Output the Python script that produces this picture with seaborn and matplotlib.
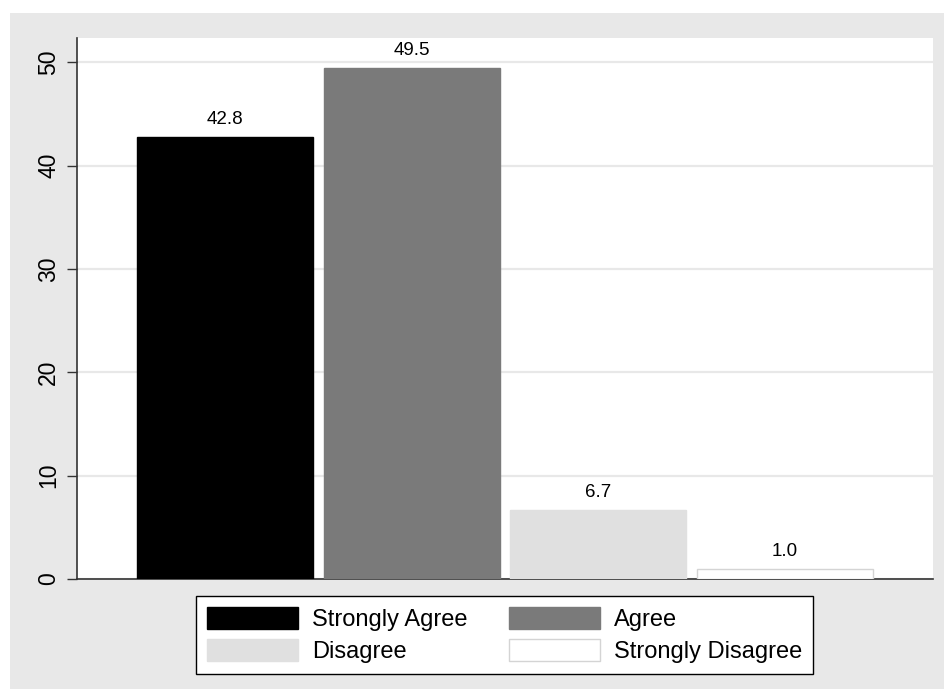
import matplotlib
matplotlib.use("Agg")
import matplotlib.pyplot as plt
import seaborn as sns
import pandas as pd
from matplotlib.patches import Patch, Rectangle

# Data
categories = ["Strongly Agree", "Agree", "Disagree", "Strongly Disagree"]
values = [42.8, 49.5, 6.7, 1.0]
bar_colors = ["#000000", "#7a7a7a", "#e0e0e0", "#ffffff"]
edge_colors = ["#000000", "#7a7a7a", "#e0e0e0", "#d4d4d4"]
yticks = [0, 10, 20, 30, 40, 50]

df = pd.DataFrame({"cat": categories, "val": values})

sns.set_style("white")
plt.rcParams["font.family"] = ["Liberation Sans", "DejaVu Sans"]
plt.rcParams["text.color"] = "black"
plt.rcParams["ytick.color"] = "black"

W, H = 945, 689
fig = plt.figure(figsize=(9.45, 6.89), dpi=100)
fig.patch.set_facecolor("white")
# Stata-like gray outer region
fig.patches.append(Rectangle((10 / W, 0), 1 - 10 / W, (H - 13) / H,
                             transform=fig.transFigure, facecolor="#e8e8e8",
                             edgecolor="none", zorder=-10))

ax = fig.add_axes([77 / W, (H - 579) / H, (933 - 77) / W, (579 - 38) / H])
ax.set_facecolor("white")

sns.barplot(data=df, x="cat", y="val", hue="cat", palette=bar_colors,
            dodge=False, width=0.944, legend=False, ax=ax, zorder=3)
for bar, ec in zip(ax.patches, edge_colors):
    bar.set_edgecolor(ec)
    bar.set_linewidth(1.0)

for bar, v in zip(ax.patches, values):
    ax.annotate(f"{v:.1f}", (bar.get_x() + bar.get_width() / 2, bar.get_height()),
                xytext=(0, 6.5), textcoords="offset points", ha="center",
                va="bottom", fontsize=13.5, color="black")

ax.set_xlim(-0.795, 3.795)
ax.set_ylim(0, 52.37)
ax.set_yticks(yticks)
ax.set_yticklabels([str(t) for t in yticks], rotation=90, va="center", fontsize=16.5)
ax.tick_params(axis="y", length=7, width=1, color="#333333", left=True, pad=5)
ax.set_xticks([])
ax.set_xlabel("")
ax.set_ylabel("")
ax.yaxis.grid(True, color="#e8e8e8", linewidth=1.6, zorder=0)
ax.set_axisbelow(True)
for s in ["top", "right"]:
    ax.spines[s].set_visible(False)
for s in ["left", "bottom"]:
    ax.spines[s].set_color("#333333")
    ax.spines[s].set_linewidth(1.2)

# legend filled row-wise (matplotlib fills column-wise)
order = [0, 2, 1, 3]
handles = [Patch(facecolor=bar_colors[i], edgecolor=edge_colors[i], linewidth=1) for i in order]
labels = [categories[i] for i in order]
leg = fig.legend(handles, labels, ncol=2, loc="center",
                 bbox_to_anchor=(504.5 / W, 1 - 635 / H), fontsize=17,
                 frameon=True, fancybox=False, handlelength=3.85, handleheight=1.05,
                 handletextpad=0.6, columnspacing=1.75, labelspacing=0.35,
                 borderpad=0.45, borderaxespad=0)
leg.get_frame().set_edgecolor("black")
leg.get_frame().set_linewidth(1)
leg.get_frame().set_facecolor("white")
leg.get_frame().set_alpha(1)

fig.savefig("out.png", dpi=100)
